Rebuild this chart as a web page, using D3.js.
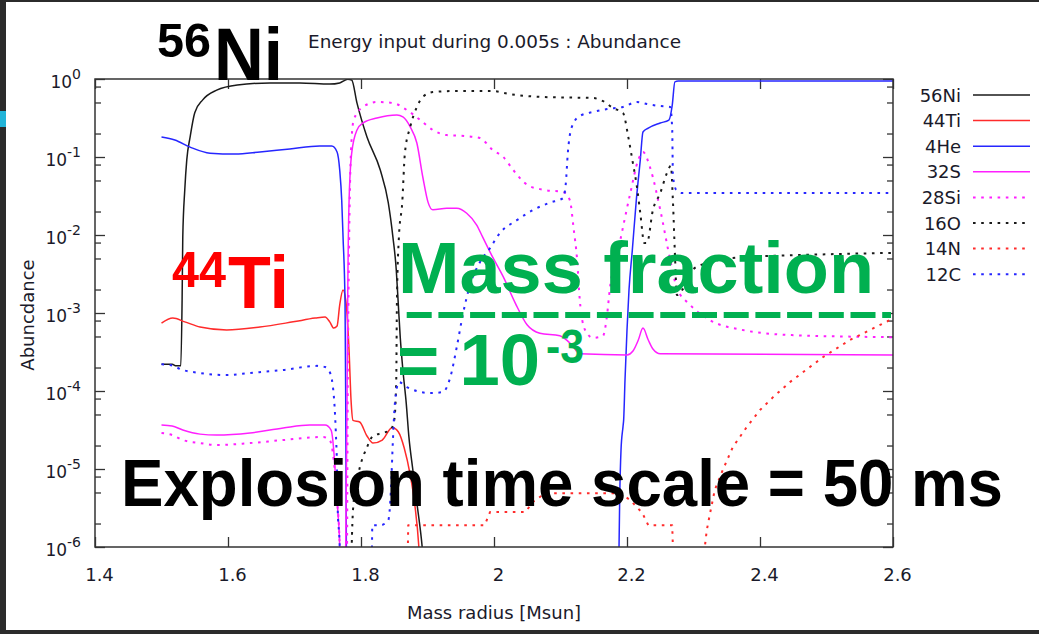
<!DOCTYPE html>
<html><head><meta charset="utf-8">
<script src="https://cdn.jsdelivr.net/npm/d3@7"></script>
<style>html,body{margin:0;padding:0;background:#fff;overflow:hidden}</style>
</head><body>
<script>
// ---------- data (mass radius [Msun], abundance) ----------
const massTicks = [1.4, 1.6, 1.8, 2.0, 2.2, 2.4, 2.6];
const massTickLabels = ["1.4", "1.6", "1.8", "2", "2.2", "2.4", "2.6"];
const abundTicks = [1, 1e-1, 1e-2, 1e-3, 1e-4, 1e-5, 1e-6];
const abundExponents = ["0", "-1", "-2", "-3", "-4", "-5", "-6"];
const abundMinorTicks = [0.8, 0.5, 0.2, 8e-2, 5e-2, 2e-2, 8e-3, 5e-3, 2e-3, 8e-4, 5e-4, 2e-4, 8e-5, 5e-5, 2e-5, 8e-6, 5e-6, 2e-6];
const seriesNames = ["56Ni", "44Ti", "4He", "32S", "28Si", "16O", "14N", "12C"];

const ni56 = [[1.500,2.2e-4],[1.516,2.2e-4],[1.522,2.1e-4],[1.529,2.1e-4],[1.531,1.5e-3],[1.532,9.4e-3],[1.535,3.8e-2],[1.538,9.2e-2],[1.543,0.18],[1.550,0.37],[1.562,0.54],[1.583,0.72],[1.614,0.84],[1.663,0.89],[1.708,0.89],[1.753,0.86],[1.768,0.89],[1.780,0.99],[1.786,0.97],[1.794,0.49],[1.809,0.18],[1.829,6.8e-2],[1.841,2.6e-2],[1.848,9.4e-3],[1.853,3.6e-3],[1.856,1.34e-3],[1.859,4.9e-4],[1.863,1.86e-4],[1.868,7.0e-5],[1.872,2.6e-5],[1.878,9.7e-6],[1.884,3.7e-6],[1.892,1e-6],[1.895,5e-7]];

const ti44 = [[1.500,7.4e-4],[1.517,8.6e-4],[1.535,7.7e-4],[1.558,6.6e-4],[1.598,6.05e-4],[1.648,6.6e-4],[1.698,7.7e-4],[1.731,8.6e-4],[1.746,8.9e-4],[1.753,7.7e-4],[1.759,6.4e-4],[1.764,6.8e-4],[1.768,1.27e-3],[1.773,1.97e-3],[1.777,1.47e-3],[1.782,3.4e-4],[1.785,7.7e-5],[1.788,4.2e-5],[1.798,4.0e-5],[1.809,2.65e-5],[1.818,2.15e-5],[1.832,2.35e-5],[1.847,3.4e-5],[1.856,3.0e-5],[1.865,1.86e-5],[1.874,8.4e-6],[1.881,3.45e-6],[1.887,1e-6],[1.889,5e-7]];

const he4 = [[1.500,0.18],[1.520,0.165],[1.543,0.134],[1.573,0.112],[1.611,0.109],[1.648,0.116],[1.693,0.127],[1.738,0.138],[1.756,0.138],[1.764,0.116],[1.768,0.068],[1.771,0.028],[1.773,9.4e-3],[1.776,1.35e-3],[1.777,7.7e-5],[1.778,1e-6],[1.779,1e-7],
  [2.187,1e-7],[2.188,1e-6],[2.189,4.0e-6],[2.191,1.75e-5],[2.194,3.5e-5],[2.195,4.3e-5],[2.197,1.38e-4],[2.200,6.05e-4],[2.203,1.97e-3],[2.208,6.4e-3],[2.214,2.8e-2],[2.220,9.2e-2],[2.224,0.209],[2.232,0.235],[2.250,0.273],[2.263,0.298],[2.268,0.46],[2.272,0.92],[2.277,0.94],[2.600,0.94]];

const s32 = [[1.500,3.66e-5],[1.516,3.56e-5],[1.532,3.16e-5],[1.558,2.8e-5],[1.583,2.73e-5],[1.633,2.9e-5],[1.683,3.36e-5],[1.723,3.66e-5],[1.746,3.66e-5],[1.755,3.16e-5],[1.759,1.75e-5],[1.762,7.2e-6],[1.765,3.0e-6],[1.768,1e-6],[1.770,1e-7],
  [1.776,1e-7],[1.777,1e-6],[1.779,7.7e-5],[1.780,1.47e-3],[1.782,2.6e-2],[1.786,0.112],[1.794,0.222],[1.803,0.273],[1.824,0.316],[1.854,0.345],[1.863,0.326],[1.874,0.243],[1.884,0.151],[1.893,5.5e-2],[1.901,2.6e-2],[1.908,2.1e-2],[1.929,2.2e-2],[1.944,2.2e-2],[1.959,1.9e-2],[1.974,1.34e-2],[1.983,9.4e-3],[1.998,5.2e-3],[2.014,2.9e-3],[2.032,1.34e-3],[2.050,7.0e-4],[2.069,5.5e-4],[2.099,5.1e-4],[2.117,3.9e-4],[2.129,3.0e-4],[2.200,2.9e-4],[2.209,3.26e-4],[2.217,4.5e-4],[2.224,6.4e-4],[2.232,4.5e-4],[2.239,3.45e-4],[2.250,3.0e-4],[2.600,2.9e-4]];

const si28 = [[1.500,2.9e-5],[1.516,2.73e-5],[1.532,2.35e-5],[1.558,2.15e-5],[1.583,2.03e-5],[1.633,2.15e-5],[1.683,2.35e-5],[1.743,2.57e-5],[1.753,2.35e-5],[1.759,1.3e-5],[1.764,4.0e-6],[1.768,1e-6],[1.770,1e-7],
  [1.777,1e-7],[1.779,1e-6],[1.780,7.7e-5],[1.782,6.4e-3],[1.785,0.123],[1.789,0.298],[1.803,0.438],[1.824,0.507],[1.848,0.492],[1.869,0.40],[1.889,0.298],[1.908,0.222],[1.929,0.191],[1.956,0.186],[1.979,0.175],[1.998,0.123],[2.014,0.1],[2.029,6.8e-2],[2.050,4.4e-2],[2.074,3.8e-2],[2.104,3.56e-2],[2.114,2.8e-2],[2.120,1.16e-2],[2.125,4.8e-3],[2.129,1.47e-3],[2.137,6.05e-4],[2.149,4.8e-4],[2.164,5.1e-4],[2.170,9.4e-4],[2.174,1.97e-3],[2.189,7.9e-3],[2.205,3.45e-2],[2.217,9.2e-2],[2.224,0.116],[2.235,7.2e-2],[2.250,2.1e-2],[2.265,4.8e-3],[2.275,2.1e-3],[2.295,1.27e-3],[2.325,8.1e-4],[2.374,6.05e-4],[2.450,5.2e-4],[2.600,4.9e-4]];

const o16 = [[1.784,1e-7],[1.786,1e-6],[1.788,3.0e-6],[1.794,7.2e-6],[1.798,1.03e-5],[1.809,1.9e-5],[1.818,2.65e-5],[1.833,2.9e-5],[1.844,3.16e-5],[1.850,4.25e-5],[1.853,1.38e-4],[1.854,1.34e-3],[1.857,9.4e-3],[1.862,2.6e-2],[1.866,0.112],[1.874,0.243],[1.884,0.438],[1.893,0.588],[1.908,0.68],[1.938,0.70],[1.998,0.70],[2.024,0.64],[2.074,0.588],[2.149,0.57],[2.164,0.52],[2.179,0.425],[2.194,0.366],[2.202,0.18],[2.208,9.2e-2],[2.215,4.1e-2],[2.220,1.9e-2],[2.226,7.9e-3],[2.230,7.9e-3],[2.239,2.1e-2],[2.250,3.45e-2],[2.260,6.2e-2],[2.266,7.7e-2],[2.269,2.8e-2],[2.272,5.9e-3],[2.275,1.7e-3],[2.283,1.97e-3],[2.295,3.26e-3],[2.310,4.1e-3],[2.374,5.2e-3],[2.450,5.5e-3],[2.600,5.9e-3]];

const n14 = [[1.869,1e-7],[1.8705,1e-6],[1.871,1.9e-6],[1.986,1.9e-6],[1.994,2.8e-6],[2.047,2.8e-6],[2.059,3.8e-6],[2.077,4.9e-6],[2.189,4.9e-6],[2.205,4.0e-6],[2.223,2.73e-6],[2.232,1.9e-6],[2.268,1.9e-6],[2.269,1e-6],[2.270,1e-7],[2.316,1e-7],[2.317,1e-6],[2.320,1.65e-6],[2.325,2.73e-6],[2.332,5.4e-6],[2.344,9.7e-6],[2.359,1.9e-5],[2.380,3.45e-5],[2.400,5.7e-5],[2.420,8.4e-5],[2.445,1.3e-4],[2.495,2.73e-4],[2.535,4.5e-4],[2.600,8.5e-4]];

const c12 = [[1.500,2.2e-4],[1.513,2.15e-4],[1.532,1.86e-4],[1.558,1.7e-4],[1.598,1.6e-4],[1.633,1.7e-4],[1.683,1.86e-4],[1.734,2.1e-4],[1.746,2.03e-4],[1.753,1.75e-4],[1.759,8.9e-5],[1.762,3.16e-5],[1.764,9.7e-6],[1.765,3.0e-6],[1.768,1e-6],[1.770,1e-7],
  [1.815,1e-7],[1.8165,1e-6],[1.817,1.9e-6],[1.829,1.9e-6],[1.841,2.2e-6],[1.845,5.4e-6],[1.848,2.35e-5],[1.851,7.0e-5],[1.857,1.3e-4],[1.869,1.12e-4],[1.884,1.0e-4],[1.904,9.4e-5],[1.923,9.7e-5],[1.934,1.47e-4],[1.944,3.66e-4],[1.953,9.4e-4],[1.964,2.3e-3],[1.979,4.5e-3],[1.994,6.8e-3],[2.009,1.06e-2],[2.035,1.56e-2],[2.059,2.1e-2],[2.084,2.6e-2],[2.104,2.98e-2],[2.108,4.6e-2],[2.111,0.112],[2.117,0.243],[2.129,0.336],[2.149,0.378],[2.170,0.412],[2.194,0.438],[2.215,0.507],[2.230,0.478],[2.250,0.45],[2.265,0.438],[2.268,0.222],[2.269,5.9e-2],[2.274,3.78e-2],[2.283,3.45e-2],[2.600,3.45e-2]];

// ---------- styles ----------
const seriesData = [ni56, ti44, he4, s32, si28, o16, n14, c12];
const seriesColor = ["#1a1a1a", "#ff2b2b", "#2626ff", "#ff1fff", "#ff1fff", "#1a1a1a", "#ff2b2b", "#2626ff"];
const seriesDotted = [false, false, false, false, true, true, true, true];
const seriesSmooth = [true, true, true, true, true, true, false, true];

const W = 1039, H = 634;
const L = 95, R = 893, T = 79, B = 547;
const FONT = "'DejaVu Sans', sans-serif";
const BOLD = "'Liberation Sans', Arial, sans-serif";

const svg = d3.select("body").append("svg").attr("width", W).attr("height", H);
svg.append("rect").attr("width", W).attr("height", H).attr("fill", "#fff");

const x = d3.scaleLinear().domain([1.4, 2.6]).range([L, R]);
const y = d3.scaleLog().domain([1e-6, 1]).range([B, T]);

svg.append("defs").append("clipPath").attr("id", "plotclip")
  .append("rect").attr("x", L).attr("y", T).attr("width", R - L).attr("height", B - T);

// title
svg.append("text").attr("x", 308).attr("y", 48).attr("font-family", FONT).attr("font-size", 18)
  .attr("fill", "#1a1a2a").attr("textLength", 373).attr("lengthAdjust", "spacingAndGlyphs")
  .text("Energy input during 0.005s : Abundance");

// axes
function styleAxis(g) {
  g.select(".domain").remove();
  g.selectAll(".tick line").attr("stroke", "#333").attr("stroke-width", 1.3);
  g.selectAll("text").attr("font-family", FONT).attr("font-size", 18).attr("fill", "#1a1a2a");
}
svg.append("g").attr("transform", `translate(0,${B})`)
  .call(d3.axisBottom(x).tickValues(massTicks).tickSize(-10).tickPadding(21).tickFormat((d, i) => massTickLabels[i]))
  .call(styleAxis).call(g => g.selectAll("text").attr("dx", 4));
svg.append("g").attr("transform", `translate(0,${T})`)
  .call(d3.axisTop(x).tickValues(massTicks).tickSize(-10).tickFormat("")).call(styleAxis);

const leftAx = svg.append("g").attr("transform", `translate(${L},0)`)
  .call(d3.axisLeft(y).tickValues(abundTicks).tickSize(-10).tickFormat("")).call(styleAxis);
leftAx.selectAll(".tick").each(function (d, i) {
  const t = d3.select(this).append("text").attr("x", -14).attr("y", 8).attr("text-anchor", "end")
    .attr("font-family", FONT).attr("fill", "#1a1a2a");
  t.append("tspan").attr("font-size", 17).text("10");
  t.append("tspan").attr("font-size", 14).attr("dy", -9).text(abundExponents[i]);
});
svg.append("g").attr("transform", `translate(${L},0)`)
  .call(d3.axisLeft(y).tickValues(abundMinorTicks).tickSize(-6).tickFormat("")).call(styleAxis);
svg.append("g").attr("transform", `translate(${R},0)`)
  .call(d3.axisRight(y).tickValues(abundTicks).tickSize(-10).tickFormat("")).call(styleAxis);
svg.append("g").attr("transform", `translate(${R},0)`)
  .call(d3.axisRight(y).tickValues(abundMinorTicks).tickSize(-6).tickFormat("")).call(styleAxis);

// axis titles
svg.append("text").attr("x", 494).attr("y", 619).attr("text-anchor", "middle")
  .attr("font-family", FONT).attr("font-size", 18).attr("fill", "#1a1a2a").text("Mass radius [Msun]");
svg.append("text").attr("transform", "translate(34,315) rotate(-90)").attr("text-anchor", "middle")
  .attr("font-family", FONT).attr("font-size", 18).attr("fill", "#1a1a2a").text("Abuncdance");

// lines
const plot = svg.append("g").attr("clip-path", "url(#plotclip)");
seriesData.forEach((data, i) => {
  const line = d3.line().x(d => x(d[0])).y(d => y(d[1]))
    .curve(seriesSmooth[i] ? d3.curveMonotoneX : d3.curveLinear);
  plot.append("path").datum(data).attr("d", line).attr("fill", "none")
    .attr("stroke", seriesColor[i])
    .attr("stroke-width", seriesDotted[i] ? 2 : 1.5)
    .attr("stroke-dasharray", seriesDotted[i] ? "2.6,5.6" : null)
    .attr("stroke-linejoin", "round");
});

// border
svg.append("rect").attr("x", L).attr("y", T).attr("width", R - L).attr("height", B - T)
  .attr("fill", "none").attr("stroke", "#333").attr("stroke-width", 1.5);

// legend
const leg = svg.append("g");
seriesNames.forEach((name, i) => {
  const cy = 95 + i * 25.6;
  leg.append("text").attr("x", 961).attr("y", cy + 6.5).attr("text-anchor", "end")
    .attr("font-family", FONT).attr("font-size", 18).attr("fill", "#1a1a2a").text(name);
  leg.append("line").attr("x1", 973).attr("x2", seriesDotted[i] ? 1027 : 1030).attr("y1", cy).attr("y2", cy)
    .attr("stroke", seriesColor[i]).attr("stroke-width", seriesDotted[i] ? 2 : 1.5)
    .attr("stroke-dasharray", seriesDotted[i] ? "2.6,5.6" : null);
});

// slide annotations
function bigText(str, xx, yy, size, color, len) {
  const t = svg.append("text").attr("x", xx).attr("y", yy).attr("font-family", BOLD)
    .attr("font-weight", "bold").attr("font-size", size).attr("fill", color).text(str);
  if (len) t.attr("textLength", len).attr("lengthAdjust", "spacingAndGlyphs");
  return t;
}
bigText("56", 157, 57, 49, "#000", 54);
bigText("Ni", 214, 80, 75, "#000", 69);
bigText("44", 172, 287, 50, "#ff0000", 54);
bigText("Ti", 228, 308, 75, "#ff0000", 61);
bigText("Mass fraction", 398, 293, 72, "#00b050", 476);
svg.append("line").attr("x1", 400).attr("x2", 891).attr("y1", 315).attr("y2", 315)
  .attr("stroke", "#00b050").attr("stroke-width", 6).attr("stroke-dasharray", "25,6.7").attr("stroke-dashoffset", 25);
bigText("= 10", 397, 385, 72, "#00b050", 143);
bigText("-3", 546, 363, 48, "#00b050", 38);
bigText("Explosion time scale = 50 ms", 121, 506, 66, "#000", 882);

// slide frame
svg.append("rect").attr("x", 0).attr("y", 0).attr("width", W).attr("height", 2).attr("fill", "#2b2b2b");
svg.append("rect").attr("x", 0).attr("y", 0).attr("width", 6).attr("height", H).attr("fill", "#2b2b2b");
svg.append("rect").attr("x", 0).attr("y", 630).attr("width", W).attr("height", 4).attr("fill", "#2b2b2b");
svg.append("rect").attr("x", 0).attr("y", 111).attr("width", 6).attr("height", 16).attr("fill", "#22b4d8");
</script>
</body></html>
